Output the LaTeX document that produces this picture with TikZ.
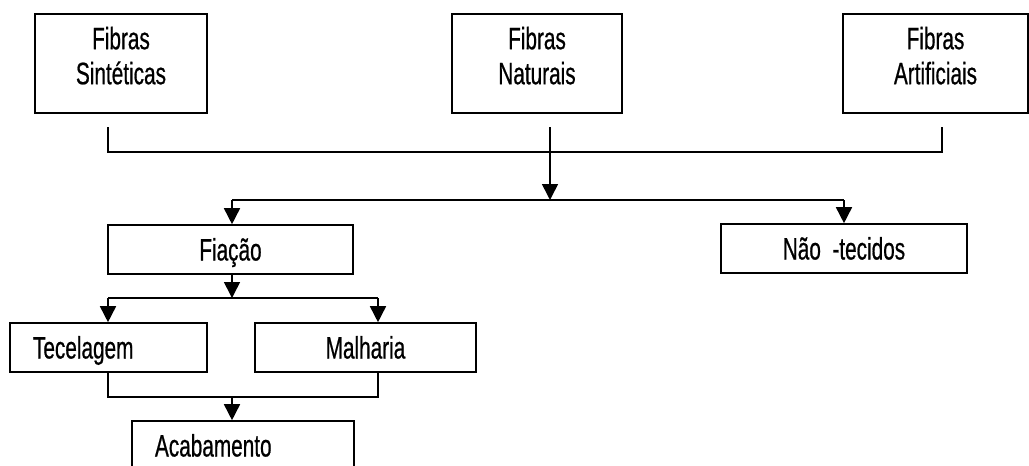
\documentclass[tikz,border=0pt]{standalone}
\usepackage{fontspec}
\setmainfont{Liberation Sans}[FakeStretch=0.67,FakeBold=0.6]
\usetikzlibrary{arrows.meta}
\begin{document}
\begin{tikzpicture}[x=1pt,y=-1pt,
  base/.style={draw, line width=1.6pt, inner sep=0pt,
    font=\fontsize{31}{35}\selectfont},
  box/.style={base, minimum height=49pt, text height=22pt, text depth=0pt},
  bigbox/.style={base, align=center, minimum height=99pt},
  leftbox/.style={box, align=left, inner xsep=23pt},
  conn/.style={line width=1.6pt},
  arr/.style={conn, -{Triangle[width=16pt,length=16pt]}}]
\useasboundingbox (0,0) rectangle (1029,466);
% top boxes
\node[bigbox, minimum width=172pt] (syn) at (121,63.5) {Fibras\\Sintéticas\rule[-16pt]{0pt}{16pt}};
\node[bigbox, minimum width=170pt] (nat) at (537,63.5) {Fibras\\Naturais\rule[-16pt]{0pt}{16pt}};
\node[bigbox, minimum width=185pt] (art) at (935.5,63.5) {Fibras\\Artificiais\rule[-16pt]{0pt}{16pt}};
% middle
\node[box, minimum width=245pt] (fia) at (230.5,249.5) {Fiação};
\node[box, minimum width=246pt] (nt) at (844,248.5) {Não\ \ -tecidos};
% lower
\node[leftbox, text width=151pt] (tec) at (108.5,347.5) {Tecelagem};
\node[box, minimum width=221pt] (mal) at (365.5,347.5) {Malharia};
\node[leftbox, text width=176pt] (aca) at (243,445.5) {Acabamento};
% junction coordinates
\coordinate (s1) at (108,127);
\coordinate (s2) at (108,152);
\coordinate (a1) at (942,127);
\coordinate (a2) at (942,152);
\coordinate (n1) at (550,127);
\coordinate (n2) at (550,200);
\coordinate (d1) at (232,200);
\coordinate (d2) at (844,200);
\coordinate (f2) at (232,298);
\coordinate (t1) at (108,298);
\coordinate (m1) at (378,298);
\coordinate (t2) at (108,397);
\coordinate (m2) at (378,397);
\coordinate (c2) at (232,397);
% connectors
\draw[conn] (s1) -- (s2) -- (a2) -- (a1);
\draw[arr] (n1) -- (n2);
\draw[conn] (d1) -- (d2);
\draw[arr] (d1) -- (d1 |- fia.north);
\draw[arr] (d2) -- (d2 |- nt.north);
\draw[arr] (fia.south -| f2) -- (f2);
\draw[conn] (t1) -- (m1);
\draw[arr] (t1) -- (t1 |- tec.north);
\draw[arr] (m1) -- (m1 |- mal.north);
\draw[conn] (t2 |- tec.south) -- (t2) -- (m2) -- (m2 |- mal.south);
\draw[arr] (c2) -- (c2 |- aca.north);
\end{tikzpicture}
\end{document}
